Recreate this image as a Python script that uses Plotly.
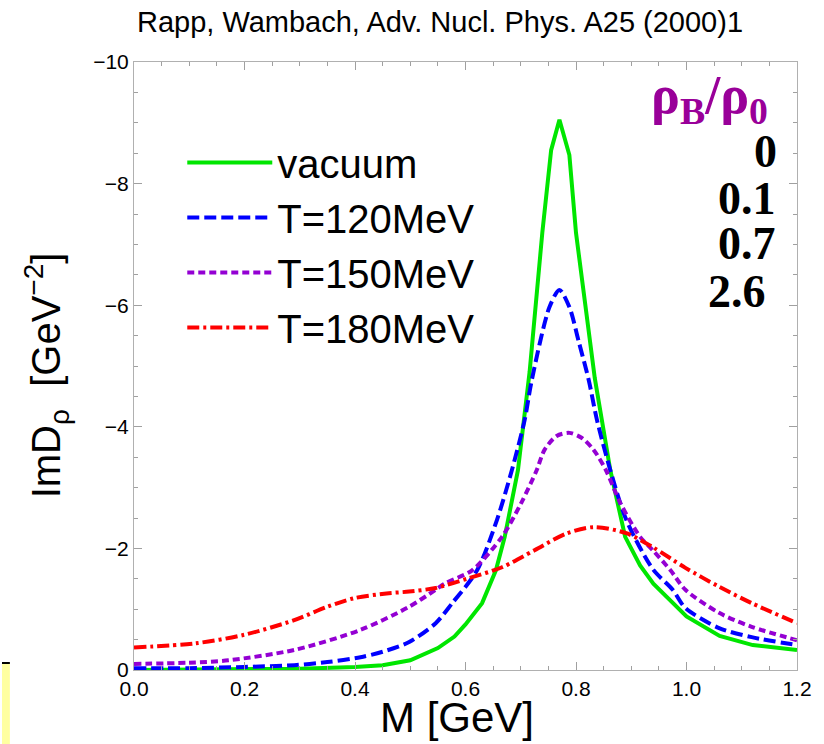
import plotly.graph_objects as go

# ---- data (M in GeV, ImD_rho in GeV^-2) ----
m_vac = [0.0, 0.1, 0.2, 0.3, 0.4, 0.45, 0.5, 0.55, 0.58, 0.6, 0.63, 0.655, 0.671, 0.684, 0.695,
         0.716, 0.739, 0.755, 0.77, 0.788, 0.80, 0.834, 0.862, 0.889, 0.916, 0.94, 0.975, 1.0,
         1.06, 1.12, 1.2]
v_vac = [0.0, -0.005, -0.01, -0.02, -0.05, -0.08, -0.16, -0.36, -0.55, -0.75, -1.1, -1.64, -2.19,
         -2.75, -3.29, -4.9, -7.19, -8.55, -9.05, -8.47, -7.19, -4.8, -3.29, -2.19, -1.72, -1.42,
         -1.1, -0.88, -0.56, -0.41, -0.33]

m_120 = [0.0, 0.1, 0.2, 0.29, 0.35, 0.41, 0.45, 0.498, 0.546, 0.576, 0.621, 0.657, 0.684, 0.707,
         0.720, 0.752, 0.770, 0.788, 0.805, 0.823, 0.838, 0.862, 0.891, 0.939, 0.975, 0.998,
         1.059, 1.118, 1.2]
v_120 = [-0.03, -0.03, -0.05, -0.08, -0.13, -0.21, -0.3, -0.46, -0.77, -1.10, -1.64, -2.47, -3.29,
         -4.11, -4.77, -5.97, -6.25, -5.97, -5.4, -4.77, -4.11, -3.29, -2.47, -1.66, -1.32, -1.02,
         -0.69, -0.54, -0.41]

m_150 = [0.0, 0.1, 0.171, 0.29, 0.41, 0.498, 0.546, 0.564, 0.612, 0.666, 0.701, 0.729, 0.743,
         0.765, 0.788, 0.81, 0.832, 0.854, 0.88, 0.916, 0.939, 0.971, 0.998, 1.059, 1.118, 1.2]
v_150 = [-0.10, -0.12, -0.16, -0.33, -0.66, -1.04, -1.32, -1.43, -1.64, -2.19, -2.75, -3.29, -3.62,
         -3.85, -3.90, -3.82, -3.62, -3.29, -2.75, -2.19, -1.97, -1.64, -1.32, -0.94, -0.71, -0.49]

m_180 = [0.0, 0.112, 0.2, 0.29, 0.35, 0.398, 0.457, 0.498, 0.546, 0.606, 0.666, 0.725, 0.784,
         0.832, 0.891, 0.939, 0.998, 1.059, 1.118, 1.2]
v_180 = [-0.37, -0.44, -0.58, -0.82, -1.04, -1.18, -1.26, -1.29, -1.35, -1.51, -1.69, -1.97, -2.25,
         -2.35, -2.25, -2.02, -1.68, -1.37, -1.10, -0.77]

series_names = ["vacuum", "T=120MeV", "T=150MeV", "T=180MeV"]
density_labels = ["0", "0.1", "0.7", "2.6"]

x_ticks = [0.0, 0.2, 0.4, 0.6, 0.8, 1.0, 1.2]
x_ticklabels = ["0.0", "0.2", "0.4", "0.6", "0.8", "1.0", "1.2"]
y_ticks = [0, -2, -4, -6, -8, -10]

fig = go.Figure()
fig.add_trace(go.Scatter(x=m_vac, y=v_vac, mode="lines", name=series_names[0],
                         line=dict(color="#00e600", width=4)))
fig.add_trace(go.Scatter(x=m_120, y=v_120, mode="lines", name=series_names[1],
                         line=dict(color="#0000ff", width=4, dash="12px,5px", shape="spline", smoothing=0.8)))
fig.add_trace(go.Scatter(x=m_150, y=v_150, mode="lines", name=series_names[2],
                         line=dict(color="#9400d3", width=4, dash="7px,4px", shape="spline", smoothing=0.8)))
fig.add_trace(go.Scatter(x=m_180, y=v_180, mode="lines", name=series_names[3],
                         line=dict(color="#ff0000", width=4, dash="12px,4px,3px,4px", shape="spline", smoothing=0.8)))

axis_common = dict(showline=True, linecolor="#b0b0b0", linewidth=1, mirror="allticks",
                   ticks="inside", ticklen=8, tickcolor="#a0a0a0", showgrid=False, zeroline=False,
                   tickfont=dict(family="Liberation Sans, Arial", size=21, color="black"))

fig.update_xaxes(range=[0, 1.2], tickvals=x_ticks, ticktext=x_ticklabels,
                 minor=dict(dtick=0.05, ticks="inside", ticklen=4, tickcolor="#a0a0a0"),
                 **axis_common)
fig.update_yaxes(range=[0, -10], tickvals=y_ticks,
                 minor=dict(dtick=0.5, ticks="inside", ticklen=4, tickcolor="#a0a0a0"),
                 **axis_common)

def px_x(px):
    return (px - 134) / 673.0

def px_y(py):
    return (670 - py) / 608.0

annotations = [
    dict(text="M [GeV]", x=px_x(462), y=px_y(717), xref="paper", yref="paper",
         showarrow=False, xanchor="center", yanchor="middle",
         font=dict(family="Liberation Sans, Arial", size=42, color="black")),
    dict(text="ImD<sub>ρ</sub>  [GeV<sup>−2</sup>]", x=px_x(45), y=px_y(375), xref="paper", yref="paper",
         showarrow=False, textangle=-90, xanchor="center", yanchor="middle",
         font=dict(family="Liberation Sans, Arial", size=40, color="black")),
    dict(text="<b>ρ<sub>B</sub>/ρ<sub>0</sub></b>", x=px_x(780), y=px_y(98), xref="paper", yref="paper",
         showarrow=False, xanchor="right", yanchor="middle",
         font=dict(family="Liberation Serif, Times New Roman", size=54, color="#990099")),
]
label_rows = [151, 198, 244, 291]
label_right = [789, 788, 788, 778]
for lab, py, rx in zip(density_labels, label_rows, label_right):
    annotations.append(dict(text="<b>" + lab + "</b>", x=px_x(rx), y=px_y(py), xref="paper", yref="paper",
                            showarrow=False, xanchor="right", yanchor="middle",
                            font=dict(family="Liberation Serif, Times New Roman", size=46, color="black")))

shapes = [
    dict(type="rect", xref="paper", yref="paper", x0=px_x(0), x1=px_x(8), y0=px_y(744), y1=px_y(663),
         fillcolor="#ffffa0", line=dict(width=0), layer="below"),
    dict(type="line", xref="paper", yref="paper", x0=px_x(0), x1=px_x(8), y0=px_y(663), y1=px_y(663),
         line=dict(color="black", width=2)),
]

fig.update_layout(
    width=824, height=744,
    margin=dict(l=134, r=17, t=62, b=74),
    paper_bgcolor="white", plot_bgcolor="white",
    title=dict(text="Rapp, Wambach, Adv. Nucl. Phys. A25 (2000)1", x=440 / 824, y=1 - 22 / 744,
               xanchor="center", yanchor="middle",
               font=dict(family="Liberation Sans, Arial", size=29, color="black")),
    legend=dict(x=px_x(183), y=px_y(130), xanchor="left", yanchor="top",
                bgcolor="rgba(0,0,0,0)", borderwidth=0, itemwidth=85,
                font=dict(family="Liberation Sans, Arial", size=40, color="black")),
    showlegend=True,
    annotations=annotations,
    shapes=shapes,
)

fig.write_html("out.html")
